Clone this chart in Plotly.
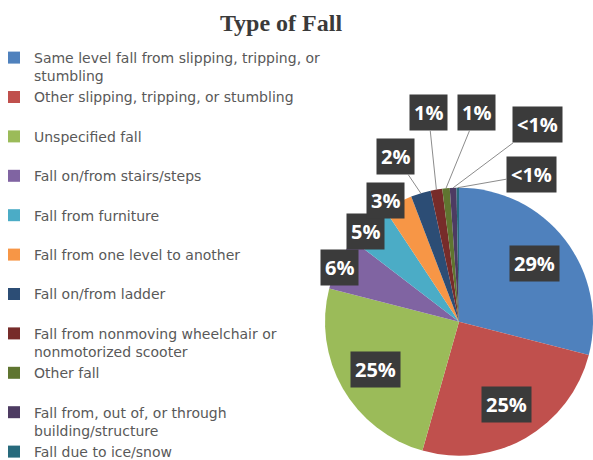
import math
import plotly.graph_objects as go

# ---- data ----
categories = [
    "Same level fall from slipping, tripping, or<br>stumbling",
    "Other slipping, tripping, or stumbling",
    "Unspecified fall",
    "Fall on/from stairs/steps",
    "Fall from furniture",
    "Fall from one level to another",
    "Fall on/from ladder",
    "Fall from nonmoving wheelchair or<br>nonmotorized scooter",
    "Other fall",
    "Fall from, out of, or through<br>building/structure",
    "Fall due to ice/snow",
]
values = [29.0, 25.4, 24.6, 6.4, 5.3, 3.5, 2.4, 1.4, 0.9, 0.8, 0.3]
pct_labels = ["29%", "25%", "25%", "6%", "5%", "3%", "2%", "1%", "1%", "<1%", "<1%"]

# ---- styles ----
colors = ["#4F81BD", "#C0504D", "#9BBB59", "#8064A2", "#4BACC6", "#F79646",
          "#2C4D75", "#772C2A", "#5F7530", "#4D3B62", "#276A7C"]
# label placement style: ("in", radius fraction) or ("out", dx px, dy px, leader line?)
label_style = [
    ("in", 0.71), ("in", 0.71), ("in", 0.72),
    ("out", 1, 4, False), ("out", -2, 8, False), ("out", -12, -2, False),
    ("out", -25, -37, True), ("out", -8, -77, True), ("out", 31, -76, True),
    ("out", 84, -63, True), ("out", 74, -13, True),
]

W, H = 593, 460
R = 134
cx, cy = W - R, 321.7  # pie centre in pixels (from top)

def px2paper(x, y):
    return x / W, 1 - y / H

dx0, dy0 = px2paper(cx - R, cy - R)
dx1, dy1 = px2paper(cx + R, cy + R)

legend_labels = [c if ("<br>" in c or i == len(categories) - 1) else c + "<br>&nbsp;"
                 for i, c in enumerate(categories)]

fig = go.Figure(go.Pie(
    labels=legend_labels,
    values=values,
    sort=False,
    direction="clockwise",
    rotation=0,
    marker=dict(colors=colors, line=dict(width=0)),
    textinfo="none",
    hoverinfo="label+percent",
    domain=dict(x=[dx0, 1], y=[dy1, dy0]),
))

annotations = []
total = sum(values)
cum = 0.0
for v, txt, st in zip(values, pct_labels, label_style):
    mid = (cum + v / 2) / total * 2 * math.pi
    cum += v
    s, c = math.sin(mid), math.cos(mid)
    common = dict(
        text=txt, xref="paper", yref="paper",
        xanchor="center", yanchor="middle",
        font=dict(family="Open Sans", size=20, color="white", weight="bold"),
        bgcolor="#3B3B3B", borderpad=4,
    )
    if st[0] == "in":
        px, py = cx + st[1] * R * s, cy - st[1] * R * c
        x, y = px2paper(px, py)
        annotations.append(dict(x=x, y=y, showarrow=False, **common))
    else:
        px, py = cx + R * s, cy - R * c
        x, y = px2paper(px, py)
        annotations.append(dict(
            x=x, y=y, ax=st[1], ay=st[2], axref="pixel", ayref="pixel",
            showarrow=True, arrowhead=0, arrowwidth=1,
            arrowcolor="#8C8C8C" if st[3] else "rgba(0,0,0,0)",
            **common))

fig.update_layout(
    width=W, height=H,
    margin=dict(l=0, r=0, t=0, b=0, autoexpand=False),
    paper_bgcolor="white",
    title=dict(
        text="<b>Type of Fall</b>",
        font=dict(family="Liberation Serif", size=24, color="#3A3A3A"),
        x=281 / W, xanchor="center", xref="paper",
        y=1 - 23 / H, yanchor="middle", yref="container",
    ),
    legend=dict(
        x=-6 / W, xanchor="left", y=1 - 42 / H, yanchor="top",
        font=dict(family="DejaVu Sans", size=14, color="#595959"),
        valign="top", itemwidth=30, bgcolor="rgba(0,0,0,0)",
        traceorder="normal",
    ),
    annotations=annotations,
    showlegend=True,
)

fig.write_html("out.html", config={"displayModeBar": False},
               post_script="document.body.style.margin='0';")
